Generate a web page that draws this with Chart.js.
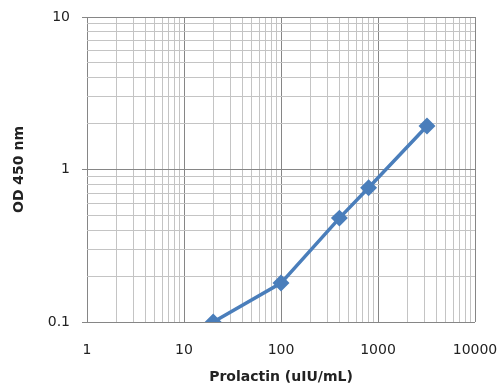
<!DOCTYPE html>
<html>
<head>
<meta charset="utf-8">
<script src="https://cdn.jsdelivr.net/npm/chart.js@4.4.0/dist/chart.umd.min.js"></script>
<style>
html, body { margin: 0; padding: 0; background: #fff; }
#wrap { width: 504px; height: 386px; position: relative; }
</style>
</head>
<body>
<div id="wrap"><canvas id="odChart"></canvas></div>
<script>
// standard curve
const concentration = [20, 100, 400, 800, 3200];
const odValues = [0.1, 0.18, 0.48, 0.76, 1.93];
const xTickLabels = [1, 10, 100, 1000, 10000];
const yTickLabels = [0.1, 1, 10];

// 1,2,...,9 per decade for the log grid
function logGrid(min, max) {
    var vals = [];
    for (var d = min; d < max; d = +(d * 10).toPrecision(3)) {
        for (var k = 1; k < 10; k++) {
            vals.push({ value: +(k * d).toPrecision(3) });
        }
    }
    vals.push({ value: max });
    return vals;
}

function gridColor(labels) {
    return function (ctx) {
        if (ctx.tick && labels.includes(ctx.tick.value)) return "#868686";
        return "#c4c4c4";
    };
}

Chart.defaults.font.family = "'DejaVu Sans', sans-serif";
Chart.defaults.color = "#222";

const odChart = new Chart("odChart", {
    type: "line",
    data: {
        datasets: [{
            data: concentration.map(function (c, i) { return { x: c, y: odValues[i] }; }),
            borderColor: "#4a7ebb",
            backgroundColor: "#4a7ebb",
            borderWidth: 3.5,
            pointStyle: "rectRot",
            pointRadius: 6,
            pointHoverRadius: 6,
            tension: 0
        }]
    },
    options: {
        responsive: true,
        maintainAspectRatio: false,
        animation: false,
        layout: { padding: { top: 17, right: 29, left: 0, bottom: 0 } },
        plugins: { legend: { display: false }, tooltip: { enabled: false } },
        scales: {
            x: {
                type: "logarithmic",
                min: 1,
                max: 10000,
                afterBuildTicks: function (scale) { scale.ticks = logGrid(1, 10000); },
                afterFit: function (scale) {
                    scale.height = 64;
                    scale.paddingLeft = 0;
                    scale.paddingRight = 0;
                },
                border: { display: false },
                grid: { color: gridColor(xTickLabels), lineWidth: 1, drawTicks: false },
                ticks: {
                    autoSkip: false,
                    maxRotation: 0,
                    padding: 20,
                    font: { size: 14 },
                    callback: function (v) { return xTickLabels.includes(v) ? String(v) : ""; }
                },
                title: {
                    display: true,
                    text: "Prolactin (uIU/mL)",
                    font: { size: 14, weight: "bold" },
                    padding: { top: 4, bottom: 0 }
                }
            },
            y: {
                type: "logarithmic",
                min: 0.1,
                max: 10,
                afterBuildTicks: function (scale) { scale.ticks = logGrid(0.1, 10); },
                afterFit: function (scale) {
                    scale.width = 87;
                    scale.paddingTop = 0;
                    scale.paddingBottom = 0;
                },
                border: { display: false },
                grid: {
                    color: gridColor(yTickLabels),
                    tickColor: function (ctx) {
                        return ctx.tick && yTickLabels.includes(ctx.tick.value) ? "#868686" : "rgba(0,0,0,0)";
                    },
                    tickLength: 5
                },
                ticks: {
                    autoSkip: false,
                    padding: 12,
                    font: { size: 14 },
                    callback: function (v) { return yTickLabels.includes(v) ? String(v) : ""; }
                },
                title: {
                    display: true,
                    text: "OD 450 nm",
                    font: { size: 14, weight: "bold" },
                    padding: { top: 11, bottom: 0 }
                }
            }
        }
    }
});
console.log("Chart is " + odChart);
</script>
</body>
</html>
